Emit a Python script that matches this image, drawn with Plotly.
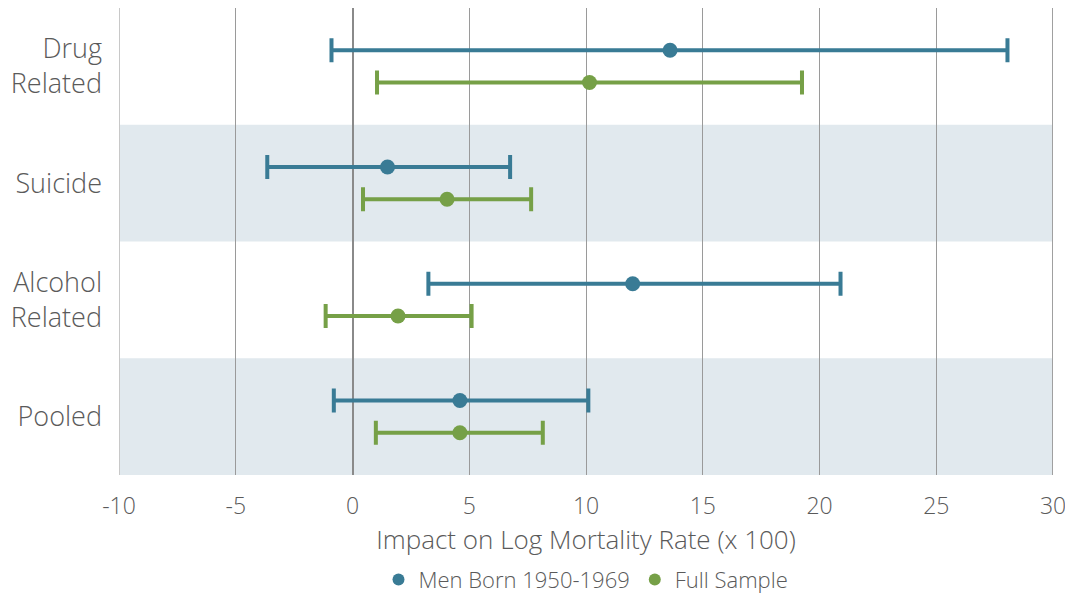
import plotly.graph_objects as go

categories = ["Drug<br>Related", "Suicide", "Alcohol<br>Related", "Pooled"]
cat_pos = [3, 2, 1, 0]

men_est = [13.6, 1.5, 12.0, 4.6]
men_lo = [-0.9, -3.65, 3.25, -0.8]
men_hi = [28.05, 6.75, 20.9, 10.1]

full_est = [10.15, 4.05, 1.95, 4.6]
full_lo = [1.05, 0.45, -1.15, 1.0]
full_hi = [19.25, 7.65, 5.1, 8.15]

xticks = [-10, -5, 0, 5, 10, 15, 20, 25, 30]

BLUE = "#397B95"
GREEN = "#76A047"
TXT = "#5a5a5a"
OFF = 0.138
FONT = "Open Sans, Lato, sans-serif"

fig = go.Figure()

def add_series(name, est, lo, hi, color, off):
    fig.add_trace(go.Scatter(
        x=est, y=[p + off for p in cat_pos], mode="markers", name=name,
        marker=dict(color=color, size=15),
        error_x=dict(type="data", symmetric=False,
                     array=[h - e for h, e in zip(hi, est)],
                     arrayminus=[e - l for e, l in zip(est, lo)],
                     color=color, thickness=4, width=12),
    ))

add_series("Men Born 1950-1969", men_est, men_lo, men_hi, BLUE, OFF)
add_series("Full Sample", full_est, full_lo, full_hi, GREEN, -OFF)

for c in (2, 0):
    fig.add_shape(type="rect", xref="paper", yref="y", x0=0, x1=1,
                  y0=c - 0.5, y1=c + 0.5, fillcolor="#E1E9EE",
                  line=dict(width=0), layer="below")

fig.add_shape(type="line", xref="x", yref="paper", x0=-10, x1=-10, y0=0, y1=1,
              line=dict(color="#c8c8c8", width=2), layer="below")
fig.add_shape(type="line", xref="x", yref="paper", x0=30, x1=30, y0=0, y1=1,
              line=dict(color="#a0a0a0", width=2), layer="below")

fig.update_layout(
    width=1057, height=589,
    margin=dict(l=111, r=12, t=0, b=122, autoexpand=False),
    paper_bgcolor="white", plot_bgcolor="white",
    font=dict(family=FONT, color=TXT, weight=300),
    showlegend=True,
    legend=dict(orientation="h", x=0.5, xanchor="center",
                yref="paper", y=-0.224, yanchor="middle",
                font=dict(size=22, color=TXT, family=FONT, weight=300),
                itemsizing="constant"),
    xaxis=dict(range=[-10, 30], tickvals=xticks, ticktext=[str(v) for v in xticks],
               showgrid=True, gridcolor="#9a9a9a", gridwidth=1,
               zeroline=True, zerolinecolor="#8a8a8a", zerolinewidth=2,
               tickfont=dict(size=23, color=TXT, family=FONT, weight=300),
               ticklabelstandoff=15, ticklabeloverflow="allow",
               automargin=False,
               title=dict(text="Impact on Log Mortality Rate (x 100)",
                          font=dict(size=26, color=TXT, family=FONT, weight=300),
                          standoff=10),
               fixedrange=True),
    yaxis=dict(range=[-0.5, 3.5], tickvals=cat_pos, ticktext=categories,
               showgrid=False, zeroline=False, automargin=False,
               tickfont=dict(size=27, color=TXT, family=FONT, weight=300),
               ticklabelstandoff=16,
               fixedrange=True),
)

fig.write_html("out.html")
